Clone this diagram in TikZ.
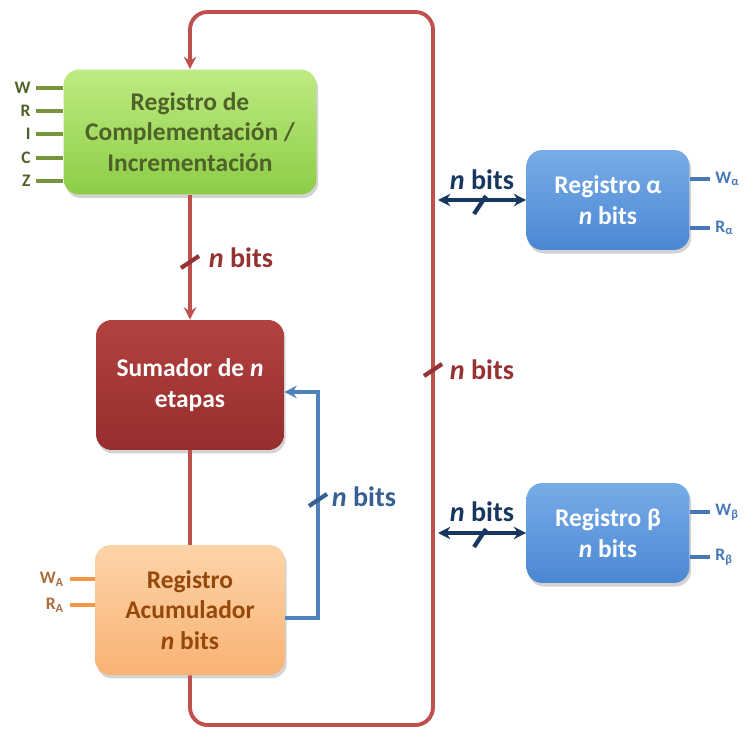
\documentclass[tikz,border=0pt]{standalone}
\usepackage{fontspec}
\setmainfont{Carlito}
\usetikzlibrary{arrows.meta, positioning, shadows}

\definecolor{grnfill}{RGB}{140,205,70}
\definecolor{grntop}{RGB}{190,235,130}
\definecolor{grntext}{RGB}{79,98,40}
\definecolor{sumfill}{RGB}{150,45,45}
\definecolor{sumtop}{RGB}{178,66,63}
\definecolor{accfill}{RGB}{249,178,115}
\definecolor{acctop}{RGB}{252,212,170}
\definecolor{acctext}{RGB}{150,72,10}
\definecolor{regfill}{RGB}{75,135,210}
\definecolor{regtop}{RGB}{120,172,232}
\definecolor{wirered}{RGB}{192,80,77}
\definecolor{labred}{RGB}{150,50,50}
\definecolor{wireblue}{RGB}{79,129,189}
\definecolor{labblue}{RGB}{55,96,146}
\definecolor{navy}{RGB}{23,55,94}
\definecolor{pingreen}{RGB}{119,147,60}
\definecolor{pinorange}{RGB}{247,150,70}
\definecolor{pinblue}{RGB}{70,120,185}

\begin{document}
\begin{tikzpicture}[
          x=0.02cm, y=-0.02cm,
          box/.style={rectangle, rounded corners=9pt, align=center,
                      font=\bfseries\fontsize{14.5}{17.5}\selectfont,
                      drop shadow={opacity=0.35, shadow xshift=1pt, shadow yshift=-2pt}},
          wire/.style={line width=2.2pt, draw=wirered},
          bwire/.style={line width=2.2pt, draw=wireblue},
          arr/.style={-{Stealth[length=7pt, width=7pt]}},
          navyarr/.style={{Stealth[length=7pt, width=7pt]}-{Stealth[length=7pt, width=7pt]},
                          line width=2.2pt, draw=navy},
          lbl/.style={font=\bfseries\fontsize{16}{18}\selectfont},
          pin/.style={line width=2.4pt},
          pinlbl/.style={font=\bfseries\fontsize{10}{11}\selectfont, inner sep=2pt},
        ]
          \useasboundingbox (0,0) rectangle (745,733);

          % registros
          \node[box, top color=grntop, bottom color=grnfill, text=grntext,
                minimum width=5.06cm, minimum height=2.5cm] (comp) at (190,132)
                {Registro de\\Complementación /\\Incrementación};
          \node[box, top color=sumtop, bottom color=sumfill, text=white,
                minimum width=3.76cm, minimum height=2.6cm] (sum) at (190,385)
                {Sumador de \textit{n}\\etapas};
          \node[box, top color=acctop, bottom color=accfill, text=acctext,
                minimum width=3.8cm, minimum height=2.6cm] (acc) at (190,610)
                {Registro\\Acumulador\\\textit{n} bits};
          \node[box, top color=regtop, bottom color=regfill, text=white,
                minimum width=3.26cm, minimum height=2cm] (ra) at (608,200)
                {Registro α\\\textit{n} bits};
          \node[box, top color=regtop, bottom color=regfill, text=white,
                minimum width=3.26cm, minimum height=2cm] (rb) at (608,533)
                {Registro β\\\textit{n} bits};

          % bus
          \coordinate (lb) at (190,725);
          \coordinate (rt) at (433,12);
          \coordinate (bus) at (438,0);
          \coordinate (bc) at (318,392);
          \draw[wire, arr] (comp.south) -- (sum.north);
          \draw[wire] (sum.south) -- (acc.north);
          \draw[wire, arr, rounded corners=10pt] (acc.south) -- (lb) -| (rt) -| (comp.north);
          \draw[bwire, arr] ([yshift=-0.16cm]acc.east) -| (bc) -- (sum.east |- bc);
          \draw[navyarr] (ra.west -| bus) -- (ra.west);
          \draw[navyarr] (rb.west -| bus) -- (rb.west);

          % marcas de n bits
          \draw[line width=2.4pt, labred] (190,262) ++(-9,6) -- ++(18,-12);
          \draw[line width=2.4pt, labred] (433,370) ++(-9,6) -- ++(18,-12);
          \draw[line width=2.4pt, labblue] (318,500) ++(-9,6) -- ++(18,-12);
          \draw[line width=2.4pt, navy] (480,205) ++(-6,9) -- ++(12,-18);
          \draw[line width=2.4pt, navy] (480,538) ++(-6,9) -- ++(12,-18);
          \node[lbl, text=labred] (l1) at (241,258) {\textit{n} bits};
          \node[lbl, text=labred] (l2) at (482,370) {\textit{n} bits};
          \node[lbl, text=labblue] (l3) at (364,497) {\textit{n} bits};
          \node[lbl, text=navy] (l4) at (482,180) {\textit{n} bits};
          \node[lbl, text=navy] (l5) at (482,512) {\textit{n} bits};

          % senales de control
          \foreach \lab/\dy in {W/44, R/21, I/-2, C/-26, Z/-49}
            \draw[pin, pingreen] ([yshift=\dy*0.02cm]comp.west) -- ++(-27,0)
              node[pinlbl, left, text=grntext] {\lab};
          \foreach \lab/\dy in {W/31, R/5}
            \draw[pin, pinorange] ([yshift=\dy*0.02cm]acc.west) -- ++(-25,0)
              node[pinlbl, left, text=acctext!80] {\lab\textsubscript{A}};
          \foreach \lab/\dy in {W/21, R/-28}
            \draw[pin, pinblue] ([yshift=\dy*0.02cm]ra.east) -- ++(20,0)
              node[pinlbl, right, text=pinblue] {\lab\textsubscript{α}};
          \foreach \lab/\dy in {W/21, R/-24}
            \draw[pin, pinblue] ([yshift=\dy*0.02cm]rb.east) -- ++(20,0)
              node[pinlbl, right, text=pinblue] {\lab\textsubscript{β}};
        \end{tikzpicture}
\end{document}
